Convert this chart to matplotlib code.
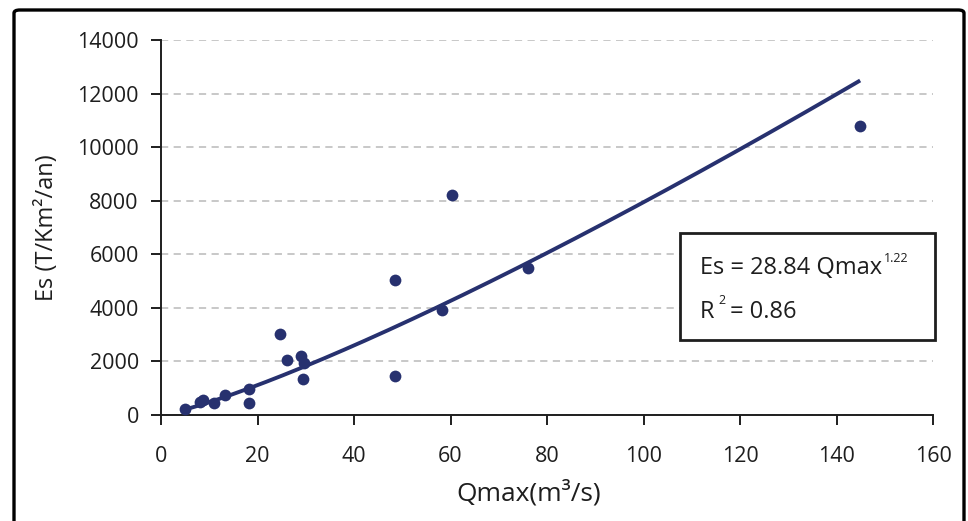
import matplotlib
matplotlib.use("Agg")
import matplotlib.pyplot as plt
from matplotlib.patches import FancyBboxPatch
import numpy as np

plt.rcParams['font.family'] = ['Open Sans', 'DejaVu Sans']

# Data
qmax = [4.9, 8.0, 8.8, 11.0, 13.3, 18.2, 18.2, 24.7, 26.1, 29.0, 29.7, 29.5,
        48.6, 48.6, 58.3, 60.4, 76.1, 144.9]
es = [220, 480, 560, 430, 760, 430, 980, 3020, 2050, 2200, 1930, 1340,
      5040, 1460, 3920, 8230, 5480, 10800]

# Power-law fit shown on the chart
coef_a = 28.84
coef_b = 1.22
r2 = 0.86

x_ticks = [0, 20, 40, 60, 80, 100, 120, 140, 160]
y_ticks = [0, 2000, 4000, 6000, 8000, 10000, 12000, 14000]

navy = '#27316F'
ink = '#1E1E1E'

fig = plt.figure(figsize=(9.68, 5.21), dpi=100)
ax = fig.add_axes([161/968, 1-415/521, (933-161)/968, (415-40)/521])

# Trend line
qfit = np.linspace(min(qmax), max(qmax), 200)
ax.plot(qfit, coef_a * qfit ** coef_b, color=navy, lw=2.8, solid_capstyle='butt', zorder=3)

# Points
ax.scatter(qmax, es, s=72, color=navy, zorder=4, linewidths=0)

ax.set_xlim(0, 160)
ax.set_ylim(0, 14000)
ax.set_xticks(x_ticks)
ax.set_yticks(y_ticks)
ax.yaxis.grid(True, linestyle=(0, (4, 3)), color='#C4C4C4', lw=1.3)
ax.set_axisbelow(True)
for s in ['top', 'right']:
    ax.spines[s].set_visible(False)
for s in ['left', 'bottom']:
    ax.spines[s].set_linewidth(1.4)
    ax.spines[s].set_color(ink)
ax.tick_params(axis='both', direction='out', length=7, width=1.4, color=ink,
               labelsize=15.5, labelcolor=ink)
ax.tick_params(axis='y', pad=9)
ax.tick_params(axis='x', pad=15)

ax.set_xlabel('Qmax(m³/s)', fontsize=19, color=ink)
ax.set_ylabel('Es (T/Km²/an)', fontsize=17, color=ink, labelpad=13)
ax.xaxis.set_label_coords((529-161)/(933-161), -(480-415)/(415-40))

# Equation box
box = FancyBboxPatch((680/968, 1-340/521), (935-680)/968, (340-233)/521,
                     boxstyle='square,pad=0', transform=fig.transFigure,
                     facecolor='white', edgecolor=ink, lw=2.0, zorder=5)
fig.patches.append(box)
fig.text(700/968, 1-268/521, f'Es = {coef_a:.2f} Qmax', fontsize=17, color=ink,
         va='center', ha='left', zorder=6)
fig.text(884/968, 1-259/521, f'{coef_b:.2f}', fontsize=9, color=ink, va='center', ha='left', zorder=6)
fig.text(700/968, 1-312/521, 'R', fontsize=17, color=ink, va='center', ha='left', zorder=6)
fig.text(718/968, 1-301/521, '2', fontsize=9, color=ink, va='center', ha='left', zorder=6)
fig.text(730/968, 1-312/521, f'= {r2:.2f}', fontsize=17, color=ink, va='center', ha='left', zorder=6)

# Outer frame
frame = FancyBboxPatch((14/968, -0.05), (964-14)/968, (0.05 + 1 - 10/521),
                       boxstyle='round,pad=0,rounding_size=0.006', transform=fig.transFigure,
                       facecolor='none', edgecolor='black', lw=2.4, zorder=10)
fig.patches.append(frame)

fig.savefig('out.png', dpi=100)
